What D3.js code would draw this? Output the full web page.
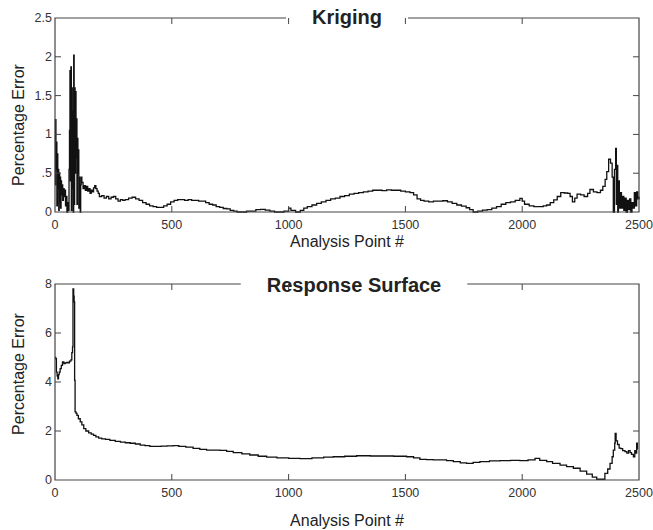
<!DOCTYPE html>
<html lang="en">
<head>
<meta charset="utf-8">
<title>Kriging vs Response Surface</title>
<script src="https://d3js.org/d3.v7.min.js"></script>
<style>
body { margin: 0; background: #fff; }
.frame { stroke: #444; stroke-width: 1.2; fill: none; }
.tickMark { stroke: #444; stroke-width: 1; }
.tickLabel { font-family: "Liberation Sans", Arial, sans-serif; font-size: 12.5px; fill: #333; }
.axisTitle { font-family: "Liberation Sans", Arial, sans-serif; font-size: 16px; fill: #222; }
.panelTitle { font-family: "Liberation Sans", Arial, sans-serif; font-weight: bold; font-size: 20px; fill: #222; }
.errLine { fill: none; stroke: #111; stroke-width: 1.3; }
</style>
</head>
<body>
<script>

// x axis (shared)
var xTicks = [0, 500, 1000, 1500, 2000, 2500];
var xTickLabels = ["0", "500", "1000", "1500", "2000", "2500"];

// Kriging panel
var krigTicks = [0, 0.5, 1, 1.5, 2, 2.5];
var krigTickLabels = ["0", ".5", "1", "1.5", "2", "2.5"];
var krigX = [0, 2, 4, 6, 8, 10, 12, 14, 16, 18, 20, 22, 24, 26, 28, 30, 33, 36, 39, 42, 45, 48, 51, 54, 57,
  60, 62, 64, 66, 68, 70, 72, 74, 76, 78, 80, 82, 84, 86, 88, 90, 92, 94, 96, 98, 100, 102, 104, 106, 108,
  110, 112, 115, 120, 125, 130, 135, 140, 145, 150, 155, 160, 165, 170, 175, 180, 185, 190, 200, 210, 220,
  230, 240, 250, 260, 270, 280, 290, 300, 315, 330, 345, 360, 375, 390, 405, 420, 435, 450, 465, 480, 495,
  510, 525, 540, 555, 570, 585, 600, 615, 630, 645, 660, 675, 690, 705, 720, 735, 750, 765, 780, 800, 820,
  840, 860, 880, 900, 920, 940, 960, 980, 1000, 1010, 1030, 1050, 1065, 1080, 1100, 1120, 1140, 1160, 1180,
  1200, 1220, 1240, 1260, 1280, 1300, 1320, 1340, 1360, 1380, 1400, 1420, 1440, 1460, 1480, 1500, 1520,
  1535, 1550, 1565, 1580, 1600, 1620, 1640, 1660, 1680, 1700, 1720, 1740, 1760, 1775, 1790, 1810, 1830,
  1850, 1870, 1890, 1910, 1930, 1950, 1970, 1990, 2000, 2010, 2030, 2050, 2070, 2090, 2105, 2120, 2135,
  2150, 2165, 2180, 2195, 2205, 2215, 2225, 2235, 2250, 2265, 2280, 2290, 2305, 2320, 2335, 2345, 2355,
  2362, 2370, 2378, 2385, 2390, 2395, 2400, 2403, 2406, 2409, 2412, 2416, 2420, 2425, 2430, 2435, 2440,
  2445, 2450, 2455, 2460, 2465, 2470, 2475, 2480, 2485, 2490, 2495, 2500];
var krigErr = [0.35, 1.19, 0.55, 0.9, 0.08, 0.75, 0.3, 0.55, 0.02, 0.5, 0.12, 0.45, 0.05, 0.4, 0.22, 0.35, 0.15, 0.3, 0.2, 0.28, 0.08, 0.2, 0.0, 0.12, 0.02,
  0.55, 1.05, 1.82, 0.4, 1.87, 0.02, 1.6, 0.3, 1.3, 0.0, 2.02, 0.1, 1.6, 0.5, 1.55, 0.7, 1.2, 0.1, 0.95, 0.5, 0.8, 0.05, 0.45, 0.15, 0.0,
  0.35, 0.45, 0.38, 0.3, 0.34, 0.28, 0.33, 0.27, 0.3, 0.24, 0.28, 0.26, 0.31, 0.34, 0.3, 0.27, 0.24, 0.2, 0.21, 0.18, 0.2,
  0.17, 0.19, 0.2, 0.17, 0.14, 0.16, 0.15, 0.16, 0.18, 0.19, 0.17, 0.15, 0.12, 0.1, 0.08, 0.07, 0.06, 0.06, 0.08, 0.1, 0.13,
  0.15, 0.16, 0.16, 0.15, 0.16, 0.15, 0.15, 0.14, 0.14, 0.12, 0.1, 0.09, 0.07, 0.06, 0.045, 0.04, 0.02, 0.01, 0.0, 0.0, 0.01,
  0.01, 0.03, 0.035, 0.025, 0.01, 0.0, 0.0, 0.01, 0.05, 0.02, 0.0, 0.02, 0.05, 0.07, 0.09, 0.11, 0.13, 0.15, 0.17,
  0.18, 0.2, 0.21, 0.23, 0.24, 0.25, 0.26, 0.27, 0.28, 0.28, 0.275, 0.285, 0.28, 0.28, 0.27, 0.26, 0.25,
  0.22, 0.17, 0.15, 0.14, 0.13, 0.14, 0.14, 0.145, 0.13, 0.11, 0.09, 0.075, 0.055, 0.03, 0.0, 0.01, 0.025,
  0.03, 0.05, 0.07, 0.1, 0.12, 0.13, 0.15, 0.175, 0.14, 0.1, 0.08, 0.07, 0.07, 0.08, 0.09, 0.12, 0.155,
  0.2, 0.25, 0.245, 0.24, 0.2, 0.13, 0.18, 0.23, 0.22, 0.2, 0.24, 0.29, 0.26, 0.25, 0.28, 0.33, 0.42,
  0.52, 0.68, 0.63, 0.45, 0.0, 0.55, 0.82, 0.1, 0.6, 0.0, 0.4, 0.05, 0.25, 0.05, 0.2, 0.02, 0.18,
  0.0, 0.15, 0.03, 0.17, 0.0, 0.12, 0.05, 0.25, 0.08, 0.26, 0.17, 0.2];

// Response surface panel
var rsTicks = [0, 2, 4, 6, 8];
var rsTickLabels = ["0", "2", "4", "6", "8"];
var rsX = [0, 3, 6, 9, 12, 15, 18, 22, 27, 32, 38, 44, 50, 56, 62, 68, 72, 75, 77, 80, 82, 84, 86, 90, 94,
  100, 108, 115, 123, 132, 144, 155, 165, 175, 187, 200, 216, 235, 258, 280, 301, 322, 344, 365, 385, 406,
  430, 455, 480, 506, 530, 560, 591, 620, 649, 680, 706, 735, 763, 800, 834, 870, 906, 950, 1000, 1049,
  1100, 1150, 1191, 1240, 1291, 1350, 1405, 1450, 1505, 1535, 1562, 1590, 1619, 1648, 1676, 1705, 1735,
  1762, 1790, 1819, 1860, 1905, 1950, 1990, 2025, 2055, 2075, 2105, 2130, 2162, 2190, 2219, 2248, 2276,
  2300, 2319, 2340, 2354, 2366, 2376, 2385, 2390, 2396, 2398, 2402, 2408, 2415, 2422, 2430, 2440, 2448,
  2455, 2462, 2468, 2476, 2482, 2486, 2490, 2493];
var rsErr = [5.0, 4.95, 4.4, 4.25, 4.13, 4.3, 4.4, 4.55, 4.68, 4.82, 4.75, 4.78, 4.8, 4.78, 4.85, 4.9, 5.2, 5.43, 7.8, 7.5, 7.27, 4.07, 2.78, 2.72, 2.64,
  2.5, 2.37, 2.25, 2.1, 2.0, 1.92, 1.87, 1.82, 1.76, 1.71, 1.68, 1.66, 1.62, 1.58, 1.55, 1.52, 1.5, 1.47, 1.42, 1.4, 1.37,
  1.37, 1.38, 1.39, 1.4, 1.37, 1.34, 1.29, 1.25, 1.22, 1.22, 1.21, 1.17, 1.12, 1.07, 1.02, 0.97, 0.93, 0.9, 0.88, 0.87,
  0.9, 0.93, 0.95, 0.97, 0.99, 0.98, 0.98, 0.97, 0.95, 0.9, 0.84, 0.83, 0.82, 0.82, 0.79, 0.75, 0.7,
  0.68, 0.72, 0.75, 0.78, 0.79, 0.8, 0.79, 0.82, 0.88, 0.8, 0.75, 0.68, 0.61, 0.55, 0.48, 0.36, 0.24,
  0.12, 0.03, 0.03, 0.27, 0.45, 0.68, 0.95, 1.22, 1.5, 1.9, 1.6, 1.45, 1.3, 1.28, 1.2, 1.16, 1.1,
  1.2, 1.12, 1.05, 0.95, 1.2, 1.1, 1.5, 1.25];

var width = 653, height = 530;
var left = 55, right = 639;

var svg = d3.select("body").append("svg")
    .attr("width", width)
    .attr("height", height);

var xScale = d3.scaleLinear().domain([0, 2500]).range([left, right]);

function drawPanel(p) {
    var yScale = d3.scaleLinear().domain([0, p.yMax]).range([p.bottom, p.top]);
    var g = svg.append("g");

    // data line
    var line = d3.line()
        .x(function(d) { return xScale(d[0]); })
        .y(function(d) { return yScale(d[1]); })
        .curve(d3.curveStepAfter);
    var pts = p.xs.map(function(x, i) { return [x, p.ys[i]]; });
    g.append("path").datum(pts).attr("class", "errLine").attr("d", line);

    // title (measured first so the top frame can break round it)
    var title = g.append("text")
        .attr("class", "panelTitle")
        .attr("x", p.titleX)
        .attr("y", p.titleY)
        .attr("text-anchor", "middle")
        .text(p.title);
    var tw = title.node().getComputedTextLength();
    var gapL = p.titleX - tw / 2 - 26, gapR = p.titleX + tw / 2 + 26;

    // frame
    g.append("path").attr("class", "frame")
        .attr("d", "M" + gapL + "," + p.top + "H" + left + "V" + p.bottom + "H" + right + "V" + p.top + "H" + gapR);

    // inward ticks, x
    xTicks.slice(1, -1).forEach(function(t) {
        g.append("line").attr("class", "tickMark")
            .attr("x1", xScale(t)).attr("x2", xScale(t))
            .attr("y1", p.bottom).attr("y2", p.bottom - 6);
        g.append("line").attr("class", "tickMark")
            .attr("x1", xScale(t)).attr("x2", xScale(t))
            .attr("y1", p.top).attr("y2", p.top + 6);
    });
    xTicks.forEach(function(t, i) {
        g.append("text").attr("class", "tickLabel")
            .attr("x", xScale(t))
            .attr("y", p.bottom + 17)
            .attr("text-anchor", "middle")
            .text(xTickLabels[i]);
    });

    // inward ticks, y
    p.yTicks.forEach(function(t, i) {
        if (i > 0 && i < p.yTicks.length - 1) {
            g.append("line").attr("class", "tickMark")
                .attr("x1", left).attr("x2", left + 6)
                .attr("y1", yScale(t)).attr("y2", yScale(t));
            g.append("line").attr("class", "tickMark")
                .attr("x1", right).attr("x2", right - 6)
                .attr("y1", yScale(t)).attr("y2", yScale(t));
        }
        g.append("text").attr("class", "tickLabel")
            .attr("x", left - 3)
            .attr("y", yScale(t) + 4)
            .attr("text-anchor", "end")
            .text(p.yTickLabels[i]);
    });

    // axis titles
    g.append("text").attr("class", "axisTitle")
        .attr("x", (left + right) / 2)
        .attr("y", p.xLabelY)
        .attr("text-anchor", "middle")
        .text("Analysis Point #");
    g.append("text").attr("class", "axisTitle")
        .attr("transform", "translate(24," + p.yLabelY + ") rotate(-90)")
        .attr("text-anchor", "middle")
        .text("Percentage Error");
}

drawPanel({
    top: 18, bottom: 212, yMax: 2.5,
    yTicks: krigTicks, yTickLabels: krigTickLabels,
    xs: krigX, ys: krigErr,
    title: "Kriging", titleX: 347, titleY: 24,
    xLabelY: 247, yLabelY: 125
});

drawPanel({
    top: 284, bottom: 480, yMax: 8,
    yTicks: rsTicks, yTickLabels: rsTickLabels,
    xs: rsX, ys: rsErr,
    title: "Response Surface", titleX: 354, titleY: 292,
    xLabelY: 526, yLabelY: 374
});

</script>
</body>
</html>
